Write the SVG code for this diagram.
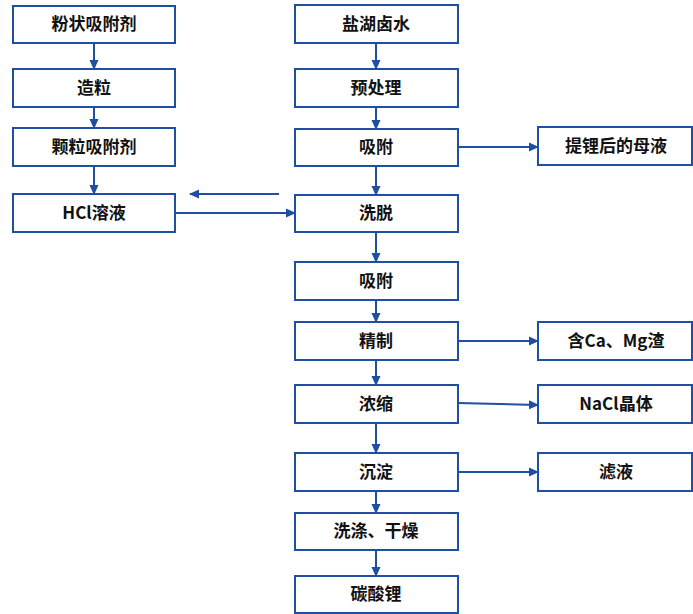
<svg xmlns="http://www.w3.org/2000/svg" width="693" height="614" viewBox="0 0 693 614">
<style>
.box{fill:#fff;stroke:#1E4FA2;stroke-width:2}
.t{font-family:"Noto Sans CJK SC","Noto Sans",sans-serif;font-size:17px;font-weight:700;fill:#111;text-anchor:middle;dominant-baseline:central}
.c{stroke:#1E4FA2;stroke-width:2;fill:none}
</style>
<defs>
<marker id="ah" markerWidth="10" markerHeight="10" refX="9" refY="5" orient="auto" markerUnits="userSpaceOnUse">
<path d="M0,0.5 L10,5 L0,9.5 Z" fill="#1E4FA2"/>
</marker>
</defs>
<rect width="693" height="614" fill="#fff"/>
<g id="connectors">
<path class="c" marker-end="url(#ah)" d="M94,43 V69"/>
<path class="c" marker-end="url(#ah)" d="M94,107 V128"/>
<path class="c" marker-end="url(#ah)" d="M94,166 V194"/>
<path class="c" marker-end="url(#ah)" d="M175,213 H295"/>
<path class="c" marker-end="url(#ah)" d="M279,194 H190"/>
<path class="c" marker-end="url(#ah)" d="M376,43 V69"/>
<path class="c" marker-end="url(#ah)" d="M376,107 V129"/>
<path class="c" marker-end="url(#ah)" d="M376,166 V195"/>
<path class="c" marker-end="url(#ah)" d="M376,232 V262"/>
<path class="c" marker-end="url(#ah)" d="M376,300 V322"/>
<path class="c" marker-end="url(#ah)" d="M376,360 V385"/>
<path class="c" marker-end="url(#ah)" d="M376,423 V453"/>
<path class="c" marker-end="url(#ah)" d="M376,491 V513"/>
<path class="c" marker-end="url(#ah)" d="M376,550 V576"/>
<path class="c" marker-end="url(#ah)" d="M458,147 H538"/>
<path class="c" marker-end="url(#ah)" d="M458,341 H538"/>
<path class="c" marker-end="url(#ah)" d="M458,403 L538,405"/>
<path class="c" marker-end="url(#ah)" d="M458,472 H538"/>
</g>
<g id="n1"><rect class="box" x="13" y="6" width="162" height="37"/><text class="t" x="94" y="22.5">粉状吸附剂</text></g>
<g id="n2"><rect class="box" x="13" y="69" width="162" height="38"/><text class="t" x="94" y="86">造粒</text></g>
<g id="n3"><rect class="box" x="13" y="128" width="162" height="38"/><text class="t" x="94" y="145">颗粒吸附剂</text></g>
<g id="n4"><rect class="box" x="13" y="194" width="162" height="38"/><text class="t" x="94" y="211">HCl溶液</text></g>
<g id="r1"><rect class="box" x="295" y="5" width="163" height="38"/><text class="t" x="376" y="22">盐湖卤水</text></g>
<g id="r2"><rect class="box" x="295" y="69" width="163" height="38"/><text class="t" x="376" y="86">预处理</text></g>
<g id="r3"><rect class="box" x="295" y="129" width="163" height="37"/><text class="t" x="376" y="145.5">吸附</text></g>
<g id="r4"><rect class="box" x="295" y="195" width="163" height="37"/><text class="t" x="376" y="211.5">洗脱</text></g>
<g id="r5"><rect class="box" x="295" y="262" width="163" height="38"/><text class="t" x="376" y="279">吸附</text></g>
<g id="r6"><rect class="box" x="295" y="322" width="163" height="38"/><text class="t" x="376" y="339">精制</text></g>
<g id="r7"><rect class="box" x="295" y="385" width="163" height="38"/><text class="t" x="376" y="402">浓缩</text></g>
<g id="r8"><rect class="box" x="295" y="453" width="163" height="38"/><text class="t" x="376" y="470">沉淀</text></g>
<g id="r9"><rect class="box" x="295" y="513" width="163" height="37"/><text class="t" x="376" y="529.5">洗涤、干燥</text></g>
<g id="r10"><rect class="box" x="295" y="576" width="163" height="37"/><text class="t" x="376" y="592.5">碳酸锂</text></g>
<g id="s1"><rect class="box" x="538" y="127" width="154" height="38"/><text class="t" x="616" y="144">提锂后的母液</text></g>
<g id="s2"><rect class="box" x="538" y="322" width="154" height="38"/><text class="t" x="616" y="339">含Ca、Mg渣</text></g>
<g id="s3"><rect class="box" x="538" y="385" width="154" height="38"/><text class="t" x="616" y="402">NaCl晶体</text></g>
<g id="s4"><rect class="box" x="538" y="453" width="154" height="38"/><text class="t" x="616" y="470">滤液</text></g>
</svg>
